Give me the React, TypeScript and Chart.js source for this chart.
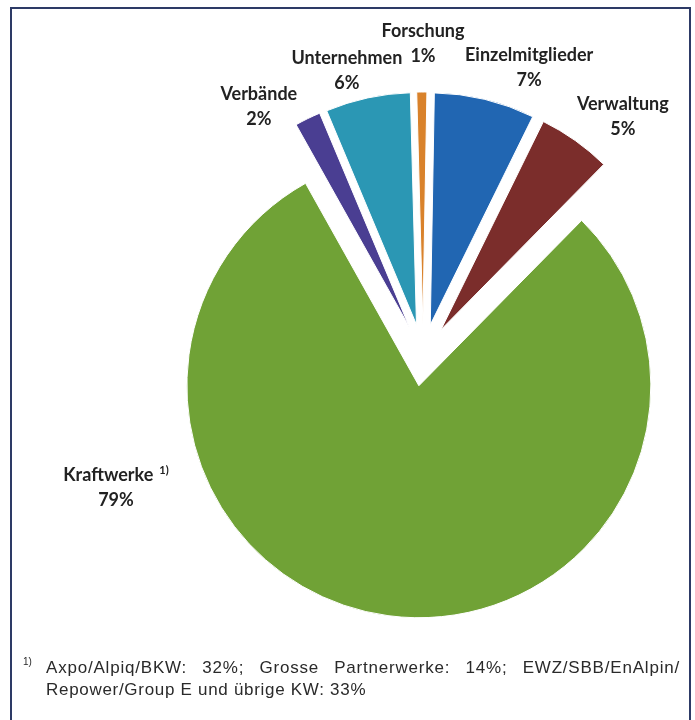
import React, { useEffect, useRef } from "react";
import { Chart, registerables } from "chart.js";

Chart.register(...registerables);

// ---- data ----
const categories = ["Einzelmitglieder", "Verwaltung", "Kraftwerke", "Verbände", "Unternehmen", "Forschung"];
const shares = [7.0, 5.1, 79.5, 1.8, 5.9, 0.7];
const percentLabels = ["7%", "5%", "79%", "2%", "6%", "1%"];
const footnoteMarks = ["", "", "1)", "", "", ""];
const footnoteLine1 = "Axpo/Alpiq/BKW: 32%; Grosse Partnerwerke: 14%; EWZ/SBB/EnAlpin/";
const footnoteLine2 = "Repower/Group E und übrige KW: 33%";

// ---- styles / placement ----
const sliceColors = ["#2166b2", "#7b2d2b", "#70a236", "#4a3e92", "#2b97b4", "#d9822b"];
const labelAngles = [20.3, 40.0, 246.6, 326.5, 345.0, 0.0]; // degrees clockwise from top
const labelRadii = [1.319, 1.34, 1.442, 1.282, 1.267, 1.341]; // in units of pie radius
const EXPLODE = 31;
const PIE_RADIUS = 232;
const LABEL_FONT = "bold 18px Lato";
const SUP_FONT = "bold 11px Lato";
const LABEL_COLOR = "#222222";
const LINE_GAP = 25;

const explodePlugin = {
  id: "explode",
  beforeDatasetDraw(chart: any, args: any) {
    const ctx = chart.ctx;
    args.meta.data.forEach((el: any) => {
      const mid = (el.startAngle + el.endAngle) / 2;
      ctx.save();
      ctx.translate(Math.cos(mid) * EXPLODE, Math.sin(mid) * EXPLODE);
      el.draw(ctx);
      ctx.restore();
    });
    return false;
  },
};

const labelPlugin = {
  id: "sliceLabels",
  afterDatasetsDraw(chart: any) {
    const meta = chart.getDatasetMeta(0);
    const ctx = chart.ctx;
    const el0 = meta.data[0] as any;
    const cx = el0.x;
    const cy = el0.y;
    const r = el0.outerRadius;
    categories.forEach((name, i) => {
      const a = ((labelAngles[i] - 90) * Math.PI) / 180;
      const x = cx + Math.cos(a) * r * labelRadii[i];
      const y = cy + Math.sin(a) * r * labelRadii[i];
      ctx.save();
      ctx.fillStyle = LABEL_COLOR;
      ctx.textBaseline = "middle";
      ctx.textAlign = "left";
      ctx.font = LABEL_FONT;
      const w1 = ctx.measureText(name).width;
      let supW = 0;
      const mark = footnoteMarks[i];
      if (mark) {
        ctx.font = SUP_FONT;
        supW = ctx.measureText(mark).width + 6;
      }
      const total = w1 + supW;
      ctx.font = LABEL_FONT;
      ctx.fillText(name, x - total / 2, y - LINE_GAP / 2);
      if (mark) {
        ctx.font = SUP_FONT;
        ctx.fillText(mark, x - total / 2 + w1 + 6, y - LINE_GAP / 2 - 5);
      }
      ctx.font = LABEL_FONT;
      ctx.textAlign = "center";
      ctx.fillText(percentLabels[i], x, y + LINE_GAP / 2);
      ctx.restore();
    });
  },
};

export default function App() {
  const canvasRef = useRef<HTMLCanvasElement | null>(null);

  useEffect(() => {
    if (!canvasRef.current) return;
    const chart = new Chart(canvasRef.current, {
      type: "pie",
      data: {
        labels: categories,
        datasets: [
          {
            data: shares,
            backgroundColor: sliceColors,
            borderColor: "#ffffff",
            borderWidth: 1,
          },
        ],
      },
      options: {
        responsive: false,
        maintainAspectRatio: false,
        animation: false,
        rotation: 1,
        radius: PIE_RADIUS,
        layout: { padding: { left: 151, right: 0, top: 0, bottom: 10 } },
        plugins: {
          legend: { display: false },
          tooltip: { enabled: false },
          title: { display: false },
        },
      },
      plugins: [explodePlugin, labelPlugin],
    });
    return () => chart.destroy();
  }, []);

  return (
    <div
      style={{
        position: "absolute",
        left: 0,
        top: 0,
        width: 695,
        height: 720,
        background: "#ffffff",
        overflow: "hidden",
      }}
    >
      <div
        style={{
          position: "absolute",
          left: 10,
          top: 7,
          width: 681,
          height: 740,
          border: "2px solid #2d3a66",
          boxSizing: "border-box",
        }}
      />
      <canvas
        ref={canvasRef}
        width={695}
        height={720}
        style={{ position: "absolute", left: 0, top: 0, width: 695, height: 720 }}
      />
      <div
        style={{
          position: "absolute",
          left: 23,
          top: 656,
          fontFamily: "'Liberation Sans', Arial, sans-serif",
          fontSize: 10,
          color: "#2a2a2a",
        }}
      >
        1)
      </div>
      <div
        style={{
          position: "absolute",
          left: 46,
          top: 657,
          width: 634,
          fontFamily: "'Liberation Sans', Arial, sans-serif",
          fontSize: 17,
          lineHeight: "22px",
          color: "#2a2a2a",
        }}
      >
        <div style={{ textAlign: "justify", textAlignLast: "justify", letterSpacing: "0.8px" }}>
          {footnoteLine1}
        </div>
        <div style={{ letterSpacing: "0.7px", whiteSpace: "nowrap" }}>{footnoteLine2}</div>
      </div>
    </div>
  );
}
